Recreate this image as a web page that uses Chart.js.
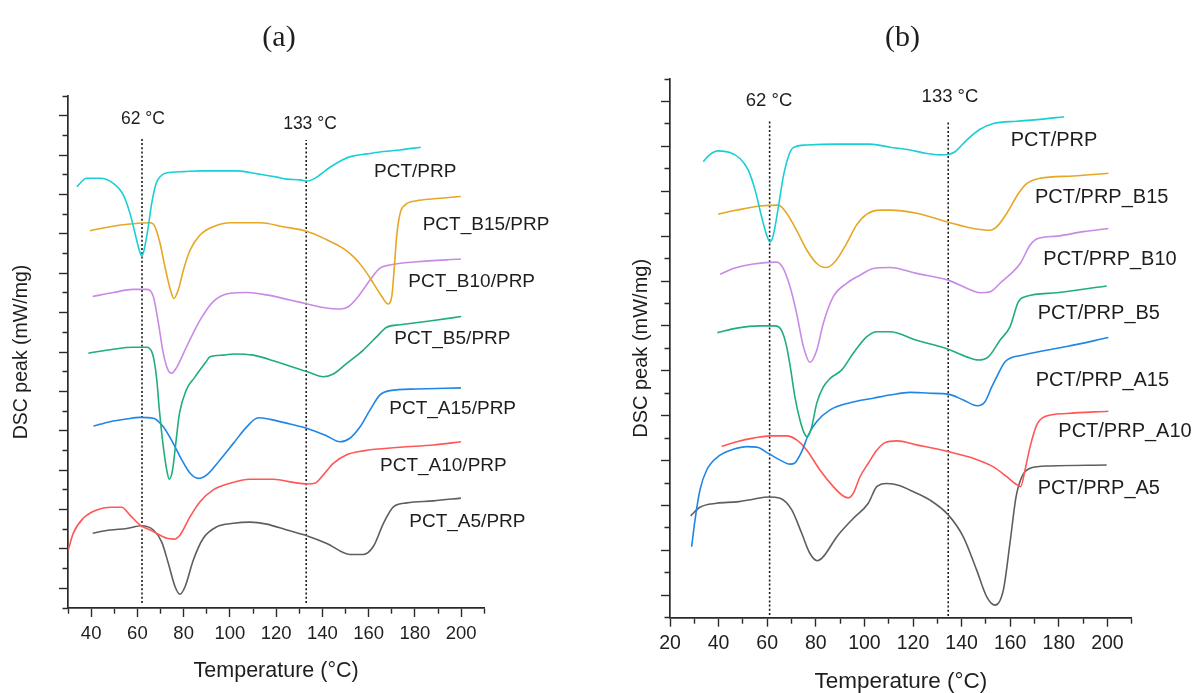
<!DOCTYPE html>
<html><head><meta charset="utf-8">
<script src="https://cdn.jsdelivr.net/npm/chart.js@4"></script>
<style>
html,body{margin:0;padding:0;background:#fff;width:1195px;height:693px;overflow:hidden}
canvas{position:absolute;top:0}
#ca{left:0} #cb{left:600px}
</style></head><body>
<canvas id="ca" width="600" height="693" style="width:600px;height:693px"></canvas>
<canvas id="cb" width="595" height="693" style="width:595px;height:693px"></canvas>
<script>
// ---------- Panel (a) data ----------
const aTitle = '(a)';
const aNames = ['PCT/PRP','PCT_B15/PRP','PCT_B10/PRP','PCT_B5/PRP','PCT_A15/PRP','PCT_A10/PRP','PCT_A5/PRP'];
const aXTicks = [30,40,50,60,70,80,90,100,110,120,130,140,150,160,170,180,190,200,210];
const aYTicks = [0,0.5,1,1.5,2,2.5,3,3.5,4,4.5,5,5.5,6,6.5,7,7.5,8,8.5,9,9.5,10,10.5,11,11.5,12,12.5,13];
const aMarkers = [62, 133];
const aMarkerLabels = ['62 °C', '133 °C'];

const aPrpX = [33.8,38.1,43.8,49.6,53.9,56.8,59.0,60.8,61.9,62.9,64.5,66.2,68.1,69.8,72.7,79.9,87.1,103.0,113.0,120.2,124.6,130.3,133.5,136.1,139.0,143.3,149.0,153.4,159.2,166.4,173.6,182.5];
const aPrpY = [10.70,10.91,10.91,10.78,10.49,10.02,9.51,9.09,8.94,9.09,9.60,10.28,10.78,10.95,11.05,11.08,11.10,11.10,11.01,10.94,10.89,10.87,10.84,10.89,11.00,11.19,11.39,11.48,11.53,11.59,11.63,11.70];

const aB15X = [39.5,48.2,56.8,65.5,67.6,69.8,71.9,74.1,75.8,77.7,79.9,82.8,87.1,92.8,100.1,113.0,123.1,133.5,141.9,149.0,153.4,157.7,162.0,165.7,168.3,170.0,171.0,172.1,173.6,175.7,180.8,188.0,199.8];
const aB15Y = [9.58,9.68,9.75,9.78,9.68,9.26,8.67,8.12,7.86,8.08,8.58,9.09,9.47,9.68,9.78,9.78,9.68,9.56,9.35,9.13,8.92,8.63,8.25,7.91,7.72,7.91,8.58,9.43,10.02,10.23,10.34,10.39,10.45];

const aB10X = [40.7,49.6,58.2,64.0,66.9,69.1,71.2,72.9,74.8,77.0,81.3,87.1,92.8,100.1,107.3,115.9,126.0,133.5,140.4,147.6,151.2,155.5,160.6,164.9,169.2,180.8,199.9];
const aB10Y = [7.91,8.01,8.09,8.09,7.91,7.23,6.47,6.09,5.96,6.11,6.64,7.31,7.78,7.99,8.01,7.95,7.82,7.72,7.63,7.59,7.65,7.91,8.33,8.63,8.71,8.79,8.86];

const aB5X = [38.8,49.6,58.2,64.0,66.2,67.2,68.4,69.5,71.2,72.7,73.8,75.2,76.6,78.2,81.1,84.7,89.7,91.4,97.2,101.5,110.1,120.2,127.4,133.5,140.4,144.7,150.5,157.7,163.5,167.8,173.6,188.0,200.0];
const aB5Y = [6.47,6.57,6.62,6.62,6.51,6.30,5.79,5.03,4.10,3.50,3.27,3.50,4.18,4.94,5.53,5.85,6.25,6.38,6.42,6.45,6.42,6.25,6.11,6.00,5.87,5.94,6.21,6.55,6.89,7.13,7.19,7.30,7.40];

const aA15X = [41.0,48.2,55.4,61.1,66.9,71.2,75.5,79.2,82.8,86.4,90.0,95.7,101.5,107.3,112.3,117.4,126.0,133.5,141.9,147.6,151.9,156.3,160.6,164.9,169.2,180.8,199.9];
const aA15Y = [4.62,4.73,4.80,4.84,4.82,4.60,4.18,3.76,3.42,3.29,3.38,3.76,4.18,4.60,4.83,4.79,4.67,4.56,4.37,4.22,4.31,4.60,5.03,5.41,5.52,5.56,5.59];

const aA10X = [30.1,32.3,36.6,42.4,48.2,53.2,56.8,61.1,66.9,72.7,75.8,78.4,82.8,87.1,92.8,100.1,108.7,118.8,127.4,133.5,136.8,140.4,144.7,150.5,157.7,173.6,188.0,199.9];
const aA10Y = [1.47,1.90,2.28,2.49,2.56,2.56,2.36,2.11,1.94,1.77,1.75,1.85,2.32,2.70,3.00,3.17,3.27,3.27,3.19,3.15,3.17,3.38,3.67,3.89,3.99,4.08,4.14,4.22];

const aA5X = [40.7,48.2,55.4,61.9,66.9,70.5,73.4,76.3,78.4,80.6,84.2,88.5,94.3,101.5,108.7,115.9,124.6,133.5,141.9,151.9,157.7,162.0,166.4,170.7,176.5,188.0,199.9];
const aA5Y = [1.90,1.98,2.02,2.09,1.98,1.68,1.13,0.54,0.35,0.54,1.22,1.77,2.06,2.15,2.18,2.13,1.98,1.83,1.64,1.36,1.36,1.56,2.15,2.57,2.67,2.72,2.79];

// ---------- Panel (b) data ----------
const bTitle = '(b)';
const bNames = ['PCT/PRP','PCT/PRP_B15','PCT/PRP_B10','PCT/PRP_B5','PCT/PRP_A15','PCT/PRP_A10','PCT/PRP_A5'];
const bXTicks = [20,30,40,50,60,70,80,90,100,110,120,130,140,150,160,170,180,190,200,210];
const bYTicks = [0,0.5,1,1.5,2,2.5,3,3.5,4,4.5,5,5.5,6,6.5,7,7.5,8,8.5,9,9.5,10,10.5,11,11.5,12];
const bMarkers = [61, 134.5];
const bMarkerLabels = ['62 °C', '133 °C'];

const bPrpX = [33.7,36.5,39.9,44.7,48.8,52.2,55.0,57.7,59.8,61.2,62.5,64.6,66.6,68.7,70.7,76.3,88.6,102.3,110.5,118.8,125.7,131.1,134.5,137.3,142.1,147.6,153.1,162.7,172.3,182.2];
const bPrpY = [10.16,10.32,10.40,10.36,10.23,9.97,9.53,8.93,8.52,8.37,8.52,9.15,9.82,10.27,10.47,10.53,10.55,10.55,10.48,10.42,10.34,10.31,10.32,10.38,10.64,10.88,11.01,11.06,11.10,11.16];

const bB15X = [39.9,47.5,57.0,64.6,68.0,72.1,76.3,80.4,84.2,87.9,92.7,96.8,101.0,106.4,110.5,121.5,134.5,144.8,151.7,154.5,158.6,163.4,166.8,172.3,186.0,200.4];
const bB15Y = [8.99,9.08,9.17,9.19,9.01,8.63,8.19,7.89,7.80,7.93,8.34,8.75,8.99,9.08,9.08,9.01,8.81,8.67,8.63,8.71,9.01,9.45,9.67,9.79,9.84,9.90];

const bB10X = [40.6,46.1,54.3,63.9,66.6,69.4,72.1,74.9,77.6,80.4,83.1,87.2,92.7,98.2,103.7,110.5,121.5,134.5,142.1,147.6,151.7,155.8,164.1,168.2,171.6,179.2,190.1,200.4];
const bB10Y = [7.65,7.78,7.88,7.92,7.78,7.37,6.78,6.04,5.69,5.96,6.56,7.15,7.45,7.63,7.78,7.80,7.67,7.52,7.34,7.24,7.26,7.45,7.89,8.30,8.45,8.50,8.60,8.67];

const bB5X = [39.5,47.5,57.0,63.2,66.0,68.0,69.7,71.4,73.5,75.6,76.5,78.3,80.4,83.1,85.9,90.7,95.4,101.0,105.1,110.5,121.5,134.5,142.1,146.9,151.0,155.8,159.9,163.4,166.8,179.2,199.7];
const bB5Y = [6.35,6.45,6.50,6.50,6.39,6.04,5.52,4.92,4.40,4.07,4.03,4.25,4.78,5.14,5.33,5.52,5.89,6.26,6.37,6.37,6.18,5.98,5.81,5.74,5.81,6.18,6.48,7.04,7.16,7.24,7.39];

const bA15X = [28.9,30.3,32.3,35.1,40.6,46.1,51.6,55.7,60.5,65.3,69.4,71.4,74.2,76.9,80.4,85.9,94.1,103.7,110.5,118.8,127.0,134.5,140.7,146.5,149.6,152.4,154.5,157.9,165.4,183.3,200.4];
const bA15Y = [1.58,2.18,2.84,3.29,3.62,3.75,3.81,3.80,3.66,3.51,3.42,3.45,3.70,4.07,4.37,4.63,4.79,4.89,4.96,5.02,5.00,4.98,4.85,4.72,4.81,5.14,5.37,5.70,5.85,6.04,6.24];

const bA10X = [41.3,47.5,54.3,61.2,68.0,72.1,76.3,81.7,87.2,91.3,93.4,95.4,98.2,101.6,105.1,108.5,113.3,121.5,134.5,144.8,153.1,158.6,162.0,164.3,166.1,168.2,170.9,174.3,183.3,200.4];
const bA10Y = [3.82,3.92,4.00,4.05,4.05,3.96,3.73,3.29,2.92,2.71,2.67,2.77,3.14,3.44,3.73,3.90,3.94,3.85,3.70,3.55,3.36,3.14,2.99,2.92,3.29,3.81,4.29,4.48,4.55,4.60];

const bA5X = [28.5,32.3,39.2,47.5,54.3,60.5,65.3,70.1,74.2,77.6,80.6,83.1,88.6,95.4,101.6,105.1,109.2,114.7,118.8,127.0,134.5,140.7,146.2,150.3,153.8,157.2,159.9,162.4,164.8,168.2,176.4,199.7];
const bA5Y = [2.27,2.46,2.55,2.58,2.64,2.69,2.66,2.40,1.88,1.43,1.27,1.36,1.80,2.21,2.55,2.92,2.99,2.94,2.84,2.62,2.29,1.80,1.06,0.47,0.28,0.62,1.66,2.69,3.14,3.33,3.38,3.40];

const xTitle = 'Temperature (°C)';
const yTitle = 'DSC peak (mW/mg)';
const colors = ['#19cfd6','#e6a723','#c98ae6','#1fae78','#1f86e6','#ff5757','#5e5e5e'];

// ---------- helpers ----------
function pts(xs, ys){ return xs.map((x,i)=>({x:x, y:ys[i]})); }
function series(label, xs, ys, color){
  return {label:label, data:pts(xs,ys), borderColor:color, borderWidth:1.6, pointRadius:0,
          fill:false, cubicInterpolationMode:'monotone', tension:0.4};
}
function vline(x, y0, y1){
  return {label:'marker', data:[{x:x,y:y0},{x:x,y:y1}], borderColor:'#1a1a1a', borderWidth:1.6,
          borderDash:[2,2.2], pointRadius:0, tension:0, fill:false};
}
function textPlugin(items){
  return {id:'texts', afterDraw(chart){
    const ctx = chart.ctx; ctx.save();
    items.forEach(t=>{
      ctx.font = t.font; ctx.fillStyle = '#1e1e1e';
      ctx.textAlign = t.align; ctx.textBaseline = 'middle';
      ctx.fillText(t.text, t.x, t.y);
    });
    ctx.restore();
  }};
}
function makeOptions(c){
  const font = 'Liberation Sans';
  return {
    responsive:false, animation:false, devicePixelRatio:1,
    layout:{padding:{left:0, top:c.top, right:c.right, bottom:0}},
    plugins:{legend:{display:false}, tooltip:{enabled:false}},
    scales:{
      x:{type:'linear', min:c.xTicks[0], max:c.xTicks[c.xTicks.length-1],
        afterBuildTicks:s=>{ s.ticks = c.xTicks.map(v=>({value:v})); },
        ticks:{autoSkip:false, maxRotation:0, minRotation:0, padding:c.xpad, color:'#1e1e1e',
               font:{family:font, size:c.xfs},
               callback:(v)=> (v % 20 === 0) ? String(v) : ''},
        grid:{drawOnChartArea:false, drawTicks:true, tickLength:9, tickColor:'#2a2a2a', tickWidth:1.4,
              tickBorderDash:(ctx)=> (ctx.tick && ctx.tick.value % 20 === 0) ? [] : [5,100]},
        border:{display:true, color:'#2a2a2a', width:1.7},
        title:{display:true, text:xTitle, color:'#1e1e1e', font:{family:font, size:c.xtfs},
               padding:{top:0, bottom:c.xtpb}},
        afterFit:s=>{ s.height = c.xh; }
      },
      y:{type:'linear', min:0, max:c.yTicks[c.yTicks.length-1],
        afterBuildTicks:s=>{ s.ticks = c.yTicks.map(v=>({value:v})); },
        ticks:{autoSkip:false, padding:0, callback:()=>''},
        grid:{drawOnChartArea:false, drawTicks:true, tickLength:9, tickColor:'#2a2a2a', tickWidth:1.4,
              tickBorderDash:(ctx)=> (ctx.tick && Math.abs(ctx.tick.value % 1 - 0.5) < 1e-6) ? [] : [0,3.5,5.5,100]},
        border:{display:true, color:'#2a2a2a', width:1.7},
        title:{display:true, text:yTitle, color:'#1e1e1e', font:{family:font, size:c.ytfs},
               padding:{top:c.ytpt, bottom:0}},
        afterFit:s=>{ s.width = c.yw; }
      }
    }
  };
}

// ---------- chart (a) ----------
const aSeries = [[aPrpX,aPrpY],[aB15X,aB15Y],[aB10X,aB10Y],[aB5X,aB5Y],[aA15X,aA15Y],[aA10X,aA10Y],[aA5X,aA5Y]];
const aDatasets = aSeries.map((s,i)=>series(aNames[i], s[0], s[1], colors[i]));
aDatasets.push(vline(aMarkers[0], 0.13, 11.93), vline(aMarkers[1], 0.13, 11.88));
const aLabelFont = '19px "Liberation Sans"';
const aTexts = [
  {text:aTitle, x:279, y:38, align:'center', font:'30px "Liberation Serif"'},
  {text:aMarkerLabels[0], x:143, y:119, align:'center', font:'17.5px "Liberation Sans"'},
  {text:aMarkerLabels[1], x:310, y:124, align:'center', font:'17.5px "Liberation Sans"'},
  {text:aNames[0], x:374, y:171.7, align:'left', font:aLabelFont},
  {text:aNames[1], x:422.7, y:225, align:'left', font:aLabelFont},
  {text:aNames[2], x:408.3, y:281.7, align:'left', font:aLabelFont},
  {text:aNames[3], x:394.3, y:338.3, align:'left', font:aLabelFont},
  {text:aNames[4], x:389.3, y:408.3, align:'left', font:aLabelFont},
  {text:aNames[5], x:380, y:466, align:'left', font:aLabelFont},
  {text:aNames[6], x:409.3, y:521.7, align:'left', font:aLabelFont}
];
new Chart(document.getElementById('ca'), {
  type:'line', data:{datasets:aDatasets},
  options:makeOptions({top:96, right:115.7, xh:85, yw:68, xTicks:aXTicks, yTicks:aYTicks,
    xpad:5.9, xfs:18.5, xtfs:21.5, xtpb:9.4, ytfs:19.5, ytpt:10.3}),
  plugins:[textPlugin(aTexts)]
});

// ---------- chart (b) ----------
const bSeries = [[bPrpX,bPrpY],[bB15X,bB15Y],[bB10X,bB10Y],[bB5X,bB5Y],[bA15X,bA15Y],[bA10X,bA10Y],[bA5X,bA5Y]];
const bDatasets = bSeries.map((s,i)=>series(bNames[i], s[0], s[1], colors[i]));
bDatasets.push(vline(bMarkers[0], 0.06, 11.1), vline(bMarkers[1], 0.04, 11.05));
const bLabelFont = '20px "Liberation Sans"';
const bTexts = [
  {text:bTitle, x:302.5, y:38, align:'center', font:'30px "Liberation Serif"'},
  {text:bMarkerLabels[0], x:169, y:100.7, align:'center', font:'18.5px "Liberation Sans"'},
  {text:bMarkerLabels[1], x:350, y:96.7, align:'center', font:'18.5px "Liberation Sans"'},
  {text:bNames[0], x:410.7, y:140, align:'left', font:bLabelFont},
  {text:bNames[1], x:435, y:197.3, align:'left', font:bLabelFont},
  {text:bNames[2], x:443.3, y:259.3, align:'left', font:bLabelFont},
  {text:bNames[3], x:437.7, y:313.3, align:'left', font:bLabelFont},
  {text:bNames[4], x:435.7, y:380, align:'left', font:bLabelFont},
  {text:bNames[5], x:458.3, y:431, align:'left', font:bLabelFont},
  {text:bNames[6], x:437.7, y:488.3, align:'left', font:bLabelFont}
];
new Chart(document.getElementById('cb'), {
  type:'line', data:{datasets:bDatasets},
  options:makeOptions({top:79, right:63.3, xh:75.3, yw:70, xTicks:bXTicks, yTicks:bYTicks,
    xpad:5.6, xfs:19.5, xtfs:22.5, xtpb:-2.5, ytfs:20, ytpt:29.7}),
  plugins:[textPlugin(bTexts)]
});
</script>
</body></html>
